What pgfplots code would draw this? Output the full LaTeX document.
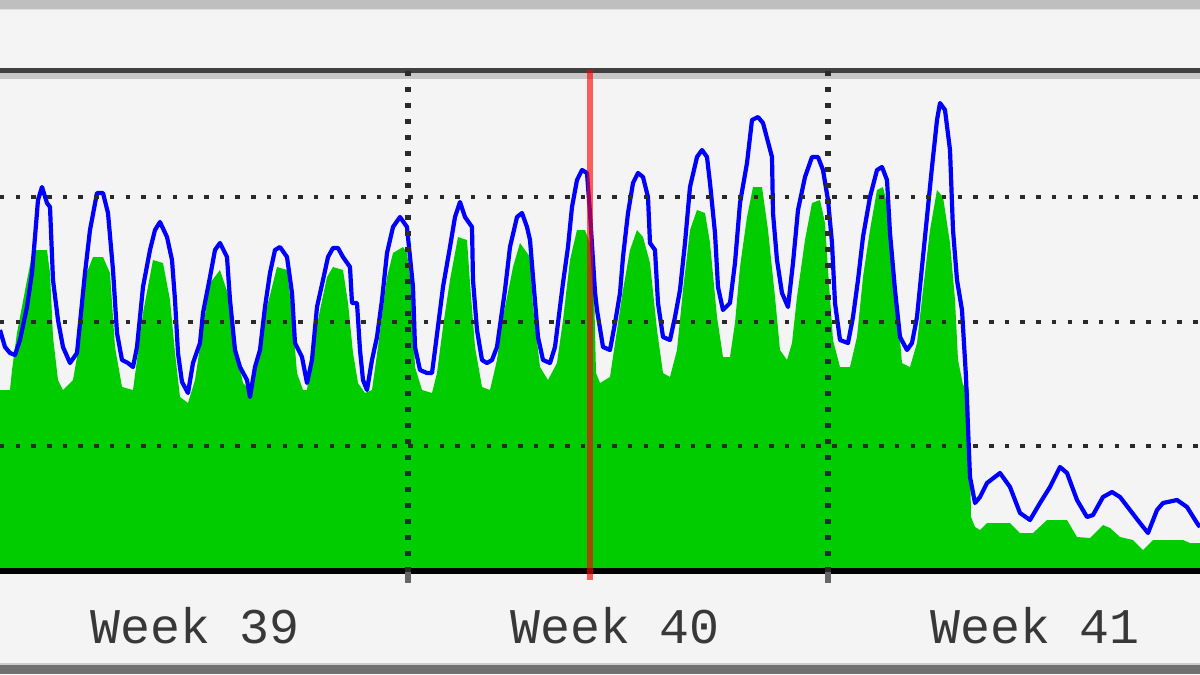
\documentclass[border=0pt]{standalone}
\usepackage{fontspec}
\setmainfont{Liberation Mono}
\usepackage{pgfplots}
\usepackage{pgfplotstable}
\pgfplotsset{compat=1.18}

\definecolor{bg}{HTML}{F4F4F4}
\definecolor{ingreen}{HTML}{00CC00}
\definecolor{outblue}{HTML}{0000FF}
\definecolor{gridgray}{HTML}{2A2A2A}

% traffic in, px above the baseline
\pgfplotstableread{
x v
0 182
10 182
12 202
17 239
27 292
33 322
47 322
50 299
53 235
58 192
63 182
73 192
80 232
85 295
93 315
103 315
110 299
115 225
122 185
133 182
137 212
143 259
153 312
163 309
170 272
175 219
180 175
188 169
195 192
200 225
210 289
220 302
230 272
237 219
243 189
250 182
258 219
267 265
277 305
287 302
292 259
297 199
303 182
307 182
313 225
320 262
327 295
333 305
343 302
348 269
353 219
358 189
365 179
372 182
378 225
387 295
393 319
403 325
407 319
412 279
415 205
422 182
432 179
437 199
443 245
450 292
458 335
467 332
470 289
475 225
482 185
490 182
497 212
503 255
513 305
520 329
530 315
533 265
540 205
548 192
557 209
563 252
570 312
577 342
585 342
590 329
593 327
596 199
600 189
610 195
617 242
623 282
630 322
637 342
643 335
650 309
657 242
663 199
670 195
677 222
683 282
690 342
697 362
705 359
710 329
717 255
723 215
730 215
735 249
740 305
747 355
753 385
762 385
768 342
775 275
780 222
787 212
792 229
797 275
805 332
812 369
820 372
825 349
828 302
833 232
840 205
850 205
857 235
863 295
870 342
877 382
883 385
890 355
895 289
902 209
910 205
917 229
923 282
930 342
937 382
943 375
950 329
955 272
958 212
963 187
969 182
971 55
975 45
980 42
987 49
1010 49
1020 39
1033 39
1047 52
1067 52
1077 35
1090 34
1103 47
1110 44
1120 35
1133 32
1143 22
1153 32
1183 32
1190 29
1200 29
}\inbound

% traffic out
\pgfplotstableread{
x v
0 242
5 225
10 219
15 217
20 232
27 265
32 299
35 335
38 372
42 385
47 369
50 365
53 292
58 252
63 225
70 209
77 219
80 249
85 299
90 342
97 379
103 379
108 359
113 302
117 239
122 212
128 209
133 205
137 225
143 285
150 322
155 342
160 350
167 335
172 312
175 272
178 219
182 190
188 179
193 209
200 229
203 259
210 295
215 322
220 329
227 315
230 272
235 222
240 205
247 192
250 175
255 205
260 222
265 265
270 299
275 322
280 325
287 315
292 279
295 229
302 215
307 189
312 212
317 265
323 292
328 315
333 324
338 324
343 315
350 305
352 269
357 269
360 222
363 192
367 182
372 212
377 235
382 272
387 319
393 345
400 355
407 345
410 315
413 285
415 225
420 202
427 199
432 199
435 222
443 285
450 325
455 355
460 370
465 355
472 345
473 292
477 242
482 212
487 209
492 212
497 225
505 282
510 325
517 355
522 359
527 345
530 332
533 295
538 235
543 212
550 209
555 225
560 265
563 289
568 325
572 365
577 392
582 402
587 399
590 359
595 280
597 262
603 225
610 222
615 249
620 279
623 315
628 359
633 389
638 399
643 395
648 375
650 329
655 322
658 269
663 235
670 232
675 255
680 282
685 329
690 385
697 415
702 422
707 415
710 389
715 339
718 285
723 262
730 269
735 309
740 369
747 409
752 452
758 455
763 449
772 415
773 359
777 312
782 279
788 265
793 309
798 362
805 395
812 415
818 415
823 402
828 372
832 329
835 269
840 232
848 229
853 255
858 292
863 335
870 375
877 402
882 405
887 392
890 339
895 282
900 235
907 222
912 229
917 255
922 305
927 355
932 405
937 452
940 469
945 462
950 422
953 342
957 292
962 262
966 195
970 95
975 69
980 75
987 89
1000 99
1010 85
1020 59
1030 52
1040 69
1050 85
1060 105
1067 99
1077 72
1087 55
1093 57
1103 75
1112 80
1120 75
1130 62
1140 49
1148 39
1157 62
1163 69
1177 72
1187 65
1197 49
1200 45
}\outbound

\begin{document}
\begin{tikzpicture}[
    weeklabel/.style={anchor=base, text=black!78, inner sep=0pt,
                      font=\fontsize{14.2}{16}\selectfont}]
\useasboundingbox (0cm,0cm) rectangle (12cm,6.74cm);
\fill[bg] (0cm,0cm) rectangle (12cm,6.74cm);
% frame strips at top and bottom of the crop
\fill[black!25] (0cm,6.65cm) rectangle (12cm,6.74cm);
\fill[black!12] (0cm,6.64cm) rectangle (12cm,6.65cm);
\fill[black!56] (0cm,0cm) rectangle (12cm,0.09cm);
\fill[black!20] (0cm,0.09cm) rectangle (12cm,0.115cm);

\begin{axis}[
    at={(0cm,1.02cm)}, anchor=south west,
    scale only axis, width=12cm, height=5.02cm,
    xmin=0, xmax=1200, ymin=0, ymax=502,
    axis line style={draw=none},
    tick style={draw=none},
    xtick={408,828}, ytick={126,250,375},
    xticklabels={}, yticklabels={},
    xmajorgrids, ymajorgrids,
    major x grid style={gridgray, line width=0.065cm, dash pattern=on 0.05cm off 0.11cm},
    major y grid style={gridgray, line width=0.045cm, dash pattern=on 0.045cm off 0.112cm},
    axis on top,
    clip=false,
  ]
  \addplot[draw=none, fill=ingreen] table[x=x, y=v] {\inbound} \closedcycle;
  \addplot[outblue, line width=0.042cm, line join=round] table[x=x, y=v] {\outbound};

  % frame lines
  \fill[black!22] (axis cs:0,493) rectangle (axis cs:1200,499);
  \draw[black!75, line width=0.05cm] (axis cs:0,501.5) -- (axis cs:1200,501.5);
  \draw[black, line width=0.055cm] (axis cs:0,1) -- (axis cs:1200,1);
  \draw[black!60, line width=0.06cm] (axis cs:408,0) -- (axis cs:408,-11);
  \draw[black!60, line width=0.06cm] (axis cs:828,0) -- (axis cs:828,-11);
  % now marker
  \draw[red, opacity=0.62, line width=0.06cm] (axis cs:590,502) -- (axis cs:590,-8);

  \node[weeklabel] at (axis cs:195,-71) {Week 39};
  \node[weeklabel] at (axis cs:615,-71) {Week 40};
  \node[weeklabel] at (axis cs:1035,-71) {Week 41};
\end{axis}
\end{tikzpicture}
\end{document}
